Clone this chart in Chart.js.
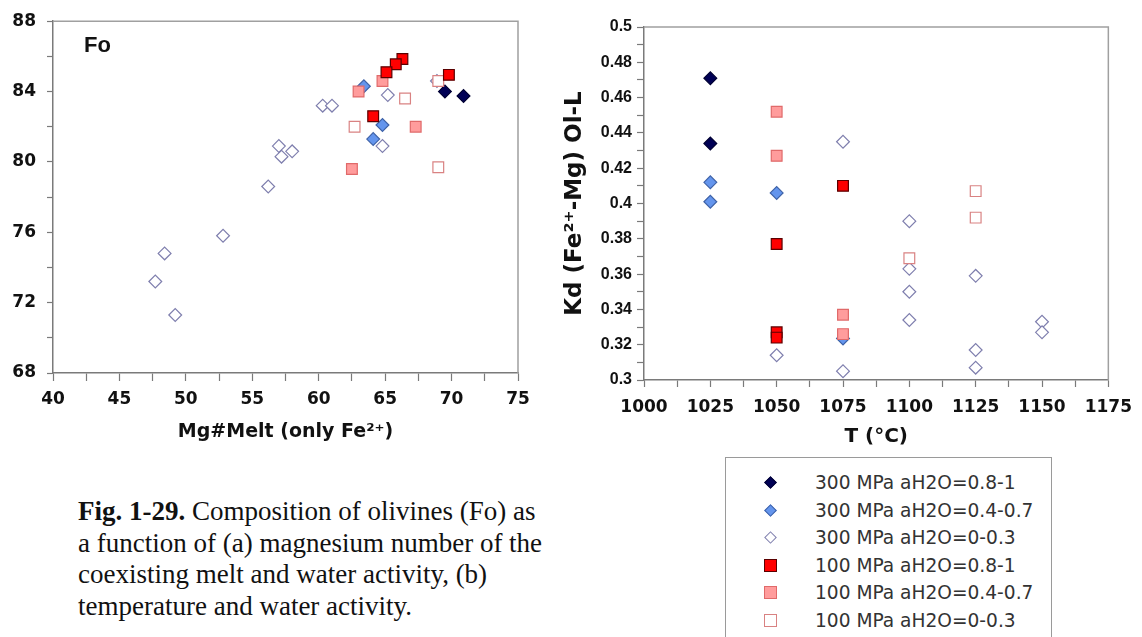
<!DOCTYPE html>
<html>
<head>
<meta charset="utf-8">
<title>Olivine composition and Kd</title>
<script src="https://cdn.jsdelivr.net/npm/chart.js@4.4.1/dist/chart.umd.min.js"></script>
<style>
  body { margin: 0; width: 1142px; height: 637px; overflow: hidden; background: #fff; position: relative; }
  #foChart { position: absolute; left: 0; top: 0; }
  #kdChart { position: absolute; left: 560px; top: 0; }
  .caption {
    position: absolute; left: 78px; top: 496px;
    font-family: "Liberation Serif", serif; font-size: 27px; line-height: 31.7px; color: #111;
  }
  .legend {
    position: absolute; left: 725px; top: 457px; width: 327px; height: 220px;
    border: 1px solid #9a9a9a; box-sizing: border-box; padding-top: 11px;
  }
  .legend .row { position: relative; height: 27.5px; }
  .legend .mark { position: absolute; box-sizing: border-box; }
  .legend .label {
    position: absolute; left: 89px; top: 0; line-height: 27.5px;
    font-family: "DejaVu Sans", sans-serif; font-size: 18.6px; color: #333; white-space: nowrap;
  }
</style>
</head>
<body>
<canvas id="foChart" width="540" height="447"></canvas>
<canvas id="kdChart" width="582" height="453"></canvas>
<div class="caption"><b>Fig. 1-29.</b> Composition of olivines (Fo) as<br>a function of (a) magnesium number of the<br>coexisting melt and water activity, (b)<br>temperature and water activity.</div>
<div class="legend" id="legend"></div>

<script>
// series: pressure / water activity groups
const seriesNames = [
  "300 MPa aH2O=0.8-1",
  "300 MPa aH2O=0.4-0.7",
  "300 MPa aH2O=0-0.3",
  "100 MPa aH2O=0.8-1",
  "100 MPa aH2O=0.4-0.7",
  "100 MPa aH2O=0-0.3"
];

// (a) Mg# of melt vs Fo
const mgMelt300Wet = [69.5, 70.9];
const fo300Wet     = [84.0, 83.75];
const mgMelt300Mid = [63.4, 64.8, 64.1];
const fo300Mid     = [84.3, 82.1, 81.3];
const mgMelt300Dry = [47.7, 48.4, 49.2, 52.8, 56.2, 57.0, 57.2, 58.0, 60.3, 61.0, 65.2, 64.8, 68.9];
const fo300Dry     = [73.2, 74.8, 71.3, 75.8, 78.6, 80.9, 80.3, 80.6, 83.2, 83.2, 83.8, 80.9, 84.6];
const mgMelt100Wet = [66.3, 65.8, 65.1, 69.8, 64.1];
const fo100Wet     = [85.85, 85.55, 85.1, 84.95, 82.6];
const mgMelt100Mid = [64.8, 63.0, 67.3, 62.5];
const fo100Mid     = [84.6, 84.0, 82.0, 79.6];
const mgMelt100Dry = [69.0, 66.5, 62.7, 69.0];
const fo100Dry     = [84.6, 83.6, 82.0, 79.7];

// (b) temperature vs Kd
const temp300Wet = [1025, 1025];
const kd300Wet   = [0.471, 0.434];
const temp300Mid = [1025, 1025, 1050, 1075];
const kd300Mid   = [0.412, 0.401, 0.406, 0.3235];
const temp300Dry = [1050, 1075, 1075, 1100, 1100, 1100, 1100, 1125, 1125, 1125, 1150, 1150];
const kd300Dry   = [0.314, 0.305, 0.435, 0.390, 0.363, 0.350, 0.334, 0.359, 0.317, 0.307, 0.333, 0.327];
const temp100Wet = [1050, 1050, 1050, 1075];
const kd100Wet   = [0.377, 0.327, 0.324, 0.410];
const temp100Mid = [1050, 1050, 1075, 1075];
const kd100Mid   = [0.452, 0.427, 0.337, 0.326];
const temp100Dry = [1100, 1125, 1125];
const kd100Dry   = [0.369, 0.407, 0.392];

const styles = [
  { shape: "rectRot", fill: "#000055", line: "#000033", order: 3 },
  { shape: "rectRot", fill: "#6495ed", line: "#3f63a8", order: 4 },
  { shape: "rectRot", fill: "#ffffff", line: "#7f7fae", order: 5 },
  { shape: "rect",    fill: "#ff0000", line: "#5a0000", order: 0 },
  { shape: "rect",    fill: "#ff9c9c", line: "#e06a6a", order: 1 },
  { shape: "rect",    fill: "#ffffff", line: "#d98282", order: 2 }
];

const zip = (xs, ys) => xs.map((x, i) => ({ x: x, y: ys[i] }));

function makeDatasets(xsList, ysList) {
  return seriesNames.map((name, i) => ({
    label: name,
    data: zip(xsList[i], ysList[i]),
    pointStyle: styles[i].shape,
    pointRadius: styles[i].shape === "rect" ? 7.6 : 6.4,
    backgroundColor: styles[i].fill,
    borderColor: styles[i].line,
    borderWidth: 1.2,
    order: styles[i].order
  }));
}

// gray frame around plot area
const frameBox = {
  id: "frameBox",
  beforeDatasetsDraw(chart) {
    const a = chart.chartArea;
    const ctx = chart.ctx;
    ctx.save();
    ctx.strokeStyle = "#a0a0a0";
    ctx.lineWidth = 1.5;
    ctx.beginPath();
    ctx.moveTo(a.left, a.top);
    ctx.lineTo(a.right, a.top);
    ctx.lineTo(a.right, a.bottom);
    ctx.stroke();
    ctx.restore();
  }
};

// "Fo" label in the corner of panel (a)
const foLabel = {
  id: "foLabel",
  afterDraw(chart) {
    const ctx = chart.ctx;
    ctx.save();
    ctx.font = "bold 22px 'Liberation Sans'";
    ctx.fillStyle = "#111";
    ctx.textBaseline = "alphabetic";
    ctx.fillText("Fo", chart.chartArea.left + 31, chart.chartArea.top + 31);
    ctx.restore();
  }
};

const axisColor = "#7a7a7a";
const textColor = "#111";

function axis(min, max, step, labelEvery, font, tickLen, pad, extra) {
  return Object.assign({
    type: "linear",
    min: min,
    max: max,
    ticks: {
      stepSize: step,
      autoSkip: false,
      maxTicksLimit: 100,
      maxRotation: 0,
      color: textColor,
      font: font,
      padding: pad,
      callback: v => Math.abs(Math.round(v / labelEvery) * labelEvery - v) < 1e-6 ? +v.toFixed(2) : ""
    },
    grid: { drawOnChartArea: false, tickLength: tickLen, color: axisColor, tickWidth: 1.2 },
    border: { color: axisColor, width: 1.5 }
  }, extra);
}

new Chart(document.getElementById("foChart"), {
  type: "scatter",
  data: {
    datasets: makeDatasets(
      [mgMelt300Wet, mgMelt300Mid, mgMelt300Dry, mgMelt100Wet, mgMelt100Mid, mgMelt100Dry],
      [fo300Wet, fo300Mid, fo300Dry, fo100Wet, fo100Mid, fo100Dry]
    )
  },
  options: {
    responsive: false,
    animation: false,
    layout: { padding: { top: 19, right: 22, left: 0, bottom: 0 } },
    plugins: { legend: { display: false }, tooltip: { enabled: false } },
    scales: {
      x: axis(40, 75, 2.5, 5, { family: "DejaVu Sans", weight: "bold", size: 17 }, 8, 8, {
        title: { display: true, text: "Mg#Melt (only Fe²⁺)", color: textColor,
                 font: { family: "DejaVu Sans", weight: "bold", size: 19 }, padding: { top: 0, bottom: 4 } },
        afterFit: s => { s.height = 74; }
      }),
      y: axis(68, 88, 2, 4, { family: "DejaVu Sans", weight: "bold", size: 17 }, 6, 11, {
        afterFit: s => { s.width = 53; }
      })
    }
  },
  plugins: [frameBox, foLabel]
});

new Chart(document.getElementById("kdChart"), {
  type: "scatter",
  data: {
    datasets: makeDatasets(
      [temp300Wet, temp300Mid, temp300Dry, temp100Wet, temp100Mid, temp100Dry],
      [kd300Wet, kd300Mid, kd300Dry, kd100Wet, kd100Mid, kd100Dry]
    )
  },
  options: {
    responsive: false,
    animation: false,
    layout: { padding: { top: 27, right: 32, left: 0, bottom: 0 } },
    plugins: { legend: { display: false }, tooltip: { enabled: false } },
    scales: {
      x: axis(1000, 1175, 12.5, 25, { family: "DejaVu Sans", weight: "bold", size: 17 }, 7, 10, {
        title: { display: true, text: "T (°C)", color: textColor,
                 font: { family: "DejaVu Sans", weight: "bold", size: 20 }, padding: { top: 0, bottom: 4 } },
        afterFit: s => { s.height = 73; }
      }),
      y: axis(0.3, 0.5, 0.01, 0.02, { family: "Liberation Sans", weight: "bold", size: 16 }, 7, 5, {
        title: { display: true, text: "Kd (Fe²⁺-Mg) Ol-L", color: textColor,
                 font: { family: "DejaVu Sans", weight: "bold", size: 23 }, padding: { top: 1, bottom: 0 } },
        afterFit: s => { s.width = 84; }
      })
    }
  },
  plugins: [frameBox]
});

// legend box
const legend = document.getElementById("legend");
seriesNames.forEach((name, i) => {
  const row = document.createElement("div");
  row.className = "row";
  const mark = document.createElement("div");
  mark.className = "mark";
  const st = styles[i];
  if (st.shape === "rectRot") {
    Object.assign(mark.style, { width: "9px", height: "9px", left: "40px", top: "9px", transform: "rotate(45deg)" });
  } else {
    Object.assign(mark.style, { width: "13px", height: "13px", left: "38px", top: "7px" });
  }
  mark.style.background = st.fill;
  mark.style.border = "1.2px solid " + st.line;
  const label = document.createElement("div");
  label.className = "label";
  label.textContent = name;
  row.appendChild(mark);
  row.appendChild(label);
  legend.appendChild(row);
});
</script>
</body>
</html>
